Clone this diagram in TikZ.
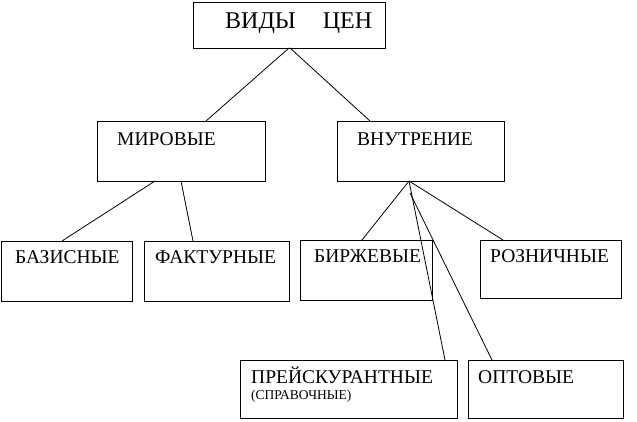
\documentclass[tikz,border=0pt]{standalone}
\usepackage{fontspec}
\setmainfont{Liberation Serif}
\usetikzlibrary{calc}
\begin{document}
\begin{tikzpicture}[x=1pt,y=-1pt,
  box/.style={draw=black,line width=0.9pt,anchor=north west,inner sep=0pt,outer sep=0pt},
  lbl/.style={anchor=base west,inner sep=0pt,font=\fontsize{19.5}{22}\selectfont},
  small/.style={anchor=base west,inner sep=0pt,font=\fontsize{13.5}{15}\selectfont},
  conn/.style={draw=black,line width=0.8pt}]
\useasboundingbox[fill=white] (0,0) rectangle (637,421);
% boxes
\node[box,minimum width=192pt,minimum height=46pt] (vid) at (193,2) {};
\node[box,minimum width=168pt,minimum height=60pt] (mir) at (97,121) {};
\node[box,minimum width=167pt,minimum height=60pt] (vnu) at (337,121) {};
\node[box,minimum width=131pt,minimum height=60pt] (baz) at (1,241) {};
\node[box,minimum width=145pt,minimum height=60pt] (fak) at (144,241) {};
\node[box,minimum width=132pt,minimum height=60pt] (bir) at (300,240) {};
\node[box,minimum width=141pt,minimum height=58pt] (roz) at (480,240) {};
\node[box,minimum width=217pt,minimum height=58pt] (pre) at (240,360) {};
\node[box,minimum width=155pt,minimum height=58pt] (opt) at (468,360) {};
% labels
\node[lbl,font=\fontsize{24}{27}\selectfont] (tvid) at (225,28) {ВИДЫ\hspace{27pt}ЦЕН};
\node[lbl] (tmir) at (117,145) {МИРОВЫЕ};
\node[lbl] (tvnu) at (357,145) {ВНУТРЕНИЕ};
\node[lbl] (tbaz) at (15,263) {БАЗИСНЫЕ};
\node[lbl] (tfak) at (155,263) {ФАКТУРНЫЕ};
\node[lbl] (tbir) at (314,262) {БИРЖЕВЫЕ};
\node[lbl] (troz) at (490,262) {РОЗНИЧНЫЕ};
\node[lbl] (tpre) at (251,383) {ПРЕЙСКУРАНТНЫЕ};
\node[small] (tspr) at (251,399) {(СПРАВОЧНЫЕ)};
\node[lbl] (topt) at (478,383) {ОПТОВЫЕ};
% connection points
\coordinate (apex) at ([xshift=72pt]vnu.south west);
\coordinate (apex2) at ([xshift=73pt,yshift=-12pt]vnu.south west);
% connectors
\draw[conn] ([xshift=96pt]vid.south west) -- ([xshift=109pt]mir.north west);
\draw[conn] ([xshift=97pt]vid.south west) -- ([xshift=33pt]vnu.north west);
\draw[conn] ([xshift=58pt]mir.south west) -- ([xshift=61pt]baz.north west);
\draw[conn] ([xshift=84pt]mir.south west) -- ([xshift=49pt]fak.north west);
\draw[conn] (apex) -- ([xshift=62pt]bir.north west);
\draw[conn] (apex) -- ([xshift=23pt]roz.north west);
\draw[conn] (apex) -- ([xshift=205pt]pre.north west);
\draw[conn] (apex2) -- ([xshift=24pt]opt.north west);
\end{tikzpicture}
\end{document}
